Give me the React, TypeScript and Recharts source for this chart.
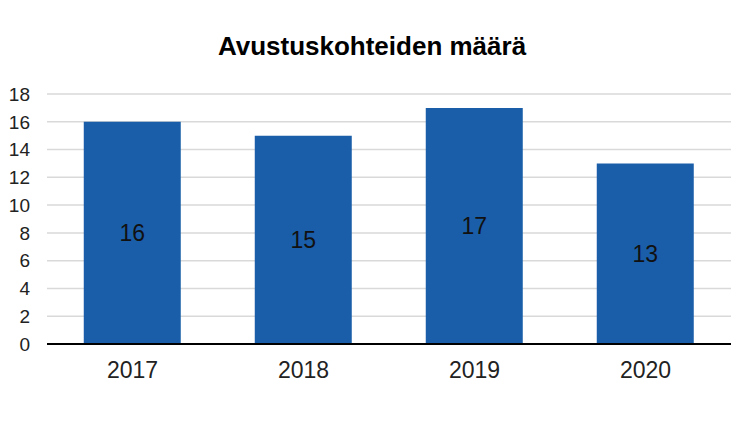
import { BarChart, Bar, XAxis, YAxis, CartesianGrid, LabelList } from 'recharts';

const YEARS = ['2017', '2018', '2019', '2020'];
const COUNTS = [16, 15, 17, 13];
const Y_TICKS = [0, 2, 4, 6, 8, 10, 12, 14, 16, 18];

const data = YEARS.map((year, i) => ({ year, count: COUNTS[i] }));

const FONT = '"Liberation Sans", Arial, sans-serif';

export default function App() {
  return (
    <div style={{ position: 'absolute', left: 0, top: 0, width: 750, height: 436, background: '#fff', fontFamily: FONT }}>
      <div
        style={{
          position: 'absolute',
          left: 0,
          top: 31,
          width: 744,
          textAlign: 'center',
          fontSize: 26,
          fontWeight: 'bold',
          color: '#000',
          lineHeight: '30px',
        }}
      >
        Avustuskohteiden määrä
      </div>
      <BarChart
        width={750}
        height={436}
        data={data}
        margin={{ top: 94, right: 19, bottom: 62, left: 0 }}
        barCategoryGap="21.5%"
      >
        <CartesianGrid vertical={false} stroke="#d9d9d9" strokeWidth={1.5} />
        <XAxis
          dataKey="year"
          height={30}
          axisLine={{ stroke: '#000', strokeWidth: 2 }}
          tickLine={false}
          tickSize={0}
          tickMargin={18}
          tick={{ fill: '#222', fontSize: 23, fontFamily: FONT }}
        />
        <YAxis
          width={47}
          domain={[0, 18]}
          ticks={Y_TICKS}
          interval={0}
          axisLine={false}
          tickLine={false}
          tickSize={0}
          tickMargin={17}
          tick={{ fill: '#222', fontSize: 19, fontFamily: FONT }}
        />
        <Bar dataKey="count" fill="#1a5ea9" isAnimationActive={false}>
          <LabelList dataKey="count" position="center" fill="#111" fontSize={23} fontFamily={FONT} />
        </Bar>
      </BarChart>
    </div>
  );
}
